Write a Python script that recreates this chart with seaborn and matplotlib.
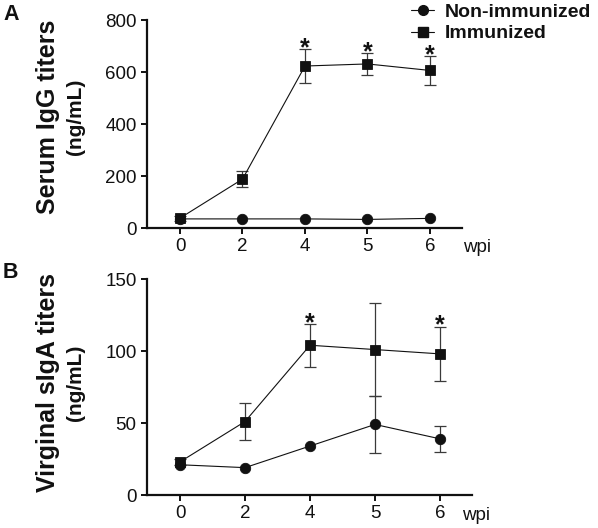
import matplotlib
matplotlib.use("Agg")
import matplotlib.pyplot as plt
import matplotlib.transforms as mtransforms
from matplotlib.lines import Line2D
import numpy as np
import pandas as pd
import seaborn as sns

# ---------------- data ----------------
weeks = ["0", "2", "4", "5", "6"]
groups = ["Non-immunized", "Immunized"]

igg_non = [35, 35, 35, 33, 37]
igg_non_err = [0, 0, 0, 0, 0]
igg_imm = [38, 188, 623, 631, 606]
igg_imm_err = [10, 32, 67, 43, 55]
igg_stars = ["4", "5", "6"]

siga_non = [21, 19, 34, 49, 39]
siga_non_err = [0, 0, 0, 20, 9]
siga_imm = [23, 51, 104, 101, 98]
siga_imm_err = [2, 13, 15, 32, 19]
siga_stars = ["4", "6"]

ylabels = [("Serum IgG titers", "(ng/mL)"), ("Virginal sIgA titers", "(ng/mL)")]
yticks_a = [0, 200, 400, 600, 800]
yticks_b = [0, 50, 100, 150]

sns.set_theme(style="ticks")
plt.rcParams["font.family"] = ["Liberation Sans", "DejaVu Sans"]

INK = "#111111"
W, H = 598, 528
fig = plt.figure(figsize=(W / 100, H / 100), dpi=100)


def px_axes(l, r, t, b):
    return fig.add_axes([l / W, 1 - b / H, (r - l) / W, (b - t) / H])


axA = px_axes(147, 462, 20, 228)
axB = px_axes(147, 472, 279, 495)

panels = [
    (axA, igg_non, igg_non_err, igg_imm, igg_imm_err, igg_stars, yticks_a, 33 / 62.5, 32 / 62.5, 4.53),
    (axB, siga_non, siga_non_err, siga_imm, siga_imm_err, siga_stars, yticks_b, 33 / 65, 32 / 65, 4.34),
]

for i, (ax, non, non_e, imm, imm_e, stars, yt, lpad, rpad, wpix) in enumerate(panels):
    df = pd.DataFrame({
        "wpi": weeks * 2,
        "value": non + imm,
        "group": [groups[0]] * len(weeks) + [groups[1]] * len(weeks),
    })
    pos = np.arange(len(weeks))
    # error bars
    for vals, errs in [(non, non_e), (imm, imm_e)]:
        e = np.array(errs, dtype=float)
        mask = e > 0
        ax.errorbar(pos[mask], np.array(vals)[mask], yerr=e[mask], fmt="none",
                    ecolor="#3a3a3a", elinewidth=0.9, capsize=4, capthick=0.9, zorder=1)
    sns.pointplot(data=df, x="wpi", y="value", hue="group", order=weeks,
                  hue_order=groups, palette=[INK, INK],
                  markers=["o", "s"], linestyles=["-", "-"], errorbar=None,
                  markersize=7.5, linewidth=0.8, legend=False, ax=ax, zorder=3)
    for c in ax.collections:
        c.set_zorder(4)
    for ln in ax.lines:
        if ln.get_marker() in ("o", "s"):
            ln.set_zorder(4)
    # stars
    for s in stars:
        k = weeks.index(s)
        top = imm[k] + imm_e[k]
        ax.annotate("*", xy=(k, top), xytext=(0, -4.5), textcoords="offset points",
                    ha="center", va="baseline", fontsize=18, fontweight="bold",
                    color=INK, annotation_clip=False)
    ax.set_xlim(-lpad, len(weeks) - 1 + rpad)
    ax.set_ylim(yt[0], yt[-1])
    ax.set_yticks(yt)
    ax.set_xlabel("")
    ax.set_ylabel("")
    sns.despine(ax=ax)
    for sp in ("left", "bottom"):
        ax.spines[sp].set_linewidth(1.6)
        ax.spines[sp].set_color(INK)
    ax.tick_params(axis="both", length=4.5, width=1.4, color=INK,
                   labelsize=13.5, labelcolor=INK, pad=3)
    ax.grid(False)
    tr = mtransforms.blended_transform_factory(ax.transData, ax.transAxes)
    ax.text(wpix, -0.095, "wpi", transform=tr, ha="left", va="center",
            fontsize=13.5, color=INK)

# y labels (two lines, different sizes)
for yc, (main, sub) in zip([117, 383], ylabels):
    fig.text(48 / W, 1 - yc / H, main, rotation=90, ha="center", va="center",
             fontsize=18, fontweight="bold", color=INK)
    fig.text(75 / W, 1 - yc / H, sub, rotation=90, ha="center", va="center",
             fontsize=15, fontweight="bold", color=INK)

# panel letters
fig.text(3 / W, 1 - 15 / H, "A", ha="left", va="center", fontsize=15.5,
         fontweight="bold", color=INK)
fig.text(3 / W, 1 - 273 / H, "B", ha="left", va="center", fontsize=15.5,
         fontweight="bold", color=INK)

# legend
handles = [
    Line2D([], [], color=INK, marker="o", markersize=7, linewidth=0.8),
    Line2D([], [], color=INK, marker="s", markersize=7, linewidth=0.8),
]
leg = fig.legend(handles, groups, loc="upper left", bbox_to_anchor=(411 / W, 1 - 3 / H),
                 frameon=False, prop={"weight": "bold", "size": 14},
                 handlelength=1.2, handletextpad=0.55, labelspacing=0.22,
                 borderpad=0, borderaxespad=0)
for t in leg.get_texts():
    t.set_color(INK)

fig.savefig("out.png", dpi=100)
